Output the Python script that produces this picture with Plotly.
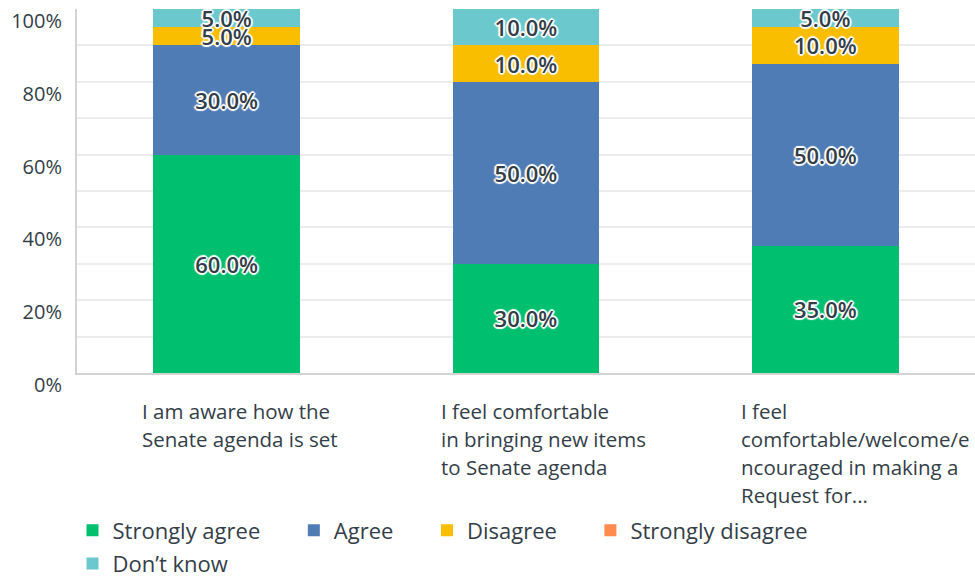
import plotly.graph_objects as go

categories = [
    "I am aware how the<br>Senate agenda is set",
    "I feel comfortable<br>in bringing new items<br>to Senate agenda",
    "I feel<br>comfortable/welcome/e<br>ncouraged in making a<br>Request for...",
]
series_names = ["Strongly agree", "Agree", "Disagree", "Strongly disagree", "Don\u2019t know"]
strongly_agree = [60, 30, 35]
agree = [30, 50, 50]
disagree = [5, 10, 10]
strongly_disagree = [0, 0, 0]
dont_know = [5, 10, 5]
y_ticks = [0, 20, 40, 60, 80, 100]

colors = ["#00bf6f", "#507cb6", "#f9be00", "#ff8b4f", "#6bc8cd"]
values = [strongly_agree, agree, disagree, strongly_disagree, dont_know]
legend_rows = ["legend", "legend", "legend", "legend", "legend2"]

FONT = "Open Sans"
TXT = "#333e48"
shadow = ("1px 1px 1px #fff, -1px -1px 1px #fff, 1px -1px 1px #fff, -1px 1px 1px #fff, "
          "0 2px 1px #fff, 0 -2px 1px #fff, 2px 0 1px #fff, -2px 0 1px #fff")
PAD = "\u00a0" * 5

xidx = list(range(len(categories)))
fig = go.Figure()
for name, vals, col, lg in zip(series_names, values, colors, legend_rows):
    fig.add_trace(go.Bar(
        name=name + PAD, x=xidx, y=vals, marker=dict(color=col, line=dict(width=0)),
        text=[f"{v:.1f}%" if v else "" for v in vals],
        textposition="inside", insidetextanchor="middle", textangle=0,
        constraintext="none", legend=lg,
        textfont=dict(family=FONT, size=22, color=TXT, shadow=shadow, weight=600),
        hoverinfo="skip",
    ))

for i, c in enumerate(categories):
    for j, line in enumerate(c.split("<br>")):
        fig.add_annotation(
            x=i - 0.29, xref="x", y=0, yref="paper", yshift=-22 - 28 * j,
            xanchor="left", yanchor="top", align="left", showarrow=False,
            text=line, font=dict(family=FONT, size=20.5, color=TXT),
        )

legend_common = dict(orientation="h", xanchor="left", yanchor="top",
                     font=dict(family=FONT, size=22, color=TXT), traceorder="normal",
                     itemclick=False, tracegroupgap=0, bgcolor="rgba(0,0,0,0)")

fig.update_layout(
    barmode="stack", bargap=0.51,
    width=975, height=579,
    margin=dict(l=77, r=0, t=9, b=206, autoexpand=False),
    plot_bgcolor="white", paper_bgcolor="white",
    font=dict(family=FONT, color=TXT),
    showlegend=True,
    legend=dict(x=-0.005, y=-0.375, **legend_common),
    legend2=dict(x=-0.005, y=-0.466, **legend_common),
    xaxis=dict(range=[-0.5, 2.5], showticklabels=False, showgrid=False, automargin=False,
               showline=True, linecolor="#d3d3d3", linewidth=2, zeroline=False, fixedrange=True),
    yaxis=dict(range=[0, 100], tickvals=y_ticks, ticktext=[f"{t}%" for t in y_ticks],
               showgrid=True, gridcolor="#ececec", gridwidth=2, automargin=False,
               minor=dict(dtick=10, showgrid=True, gridcolor="#ececec", gridwidth=2),
               showline=True, linecolor="#d3d3d3", linewidth=2, zeroline=False,
               ticks="", ticklabelshift=12, ticklabelstandoff=9,
               tickfont=dict(family=FONT, size=20, color=TXT), fixedrange=True),
)

fig.write_html("out.html", config={"displayModeBar": False},
               post_script="document.body.style.margin='0px';")
